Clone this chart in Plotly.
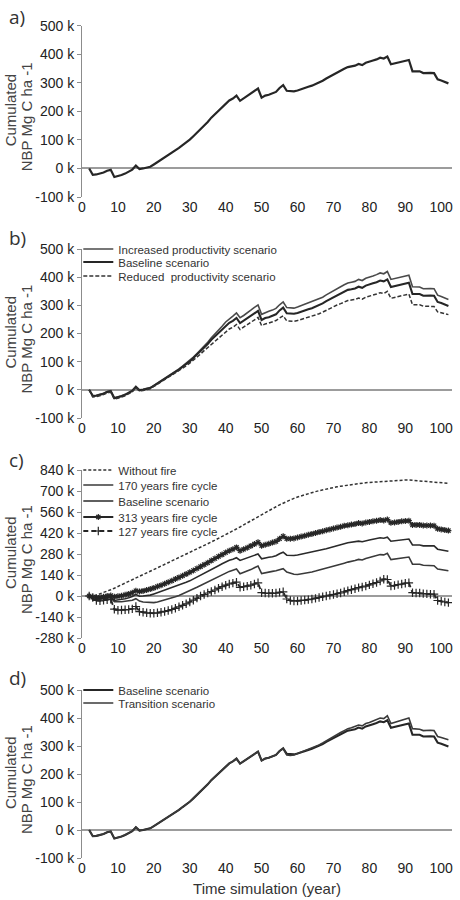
import plotly.graph_objects as go

# ---------------- data (values in thousands, k) ----------------
years = list(range(2, 103))

baseline = [0, -22, -21, -18, -14, -8, -5, -30, -27, -23,
            -18, -12, -4, 10, -2, 0, 2, 6, 14, 22,
            30, 38, 46, 54, 63, 72, 82, 91, 101, 113,
            125, 137, 150, 163, 178, 190, 202, 215, 228, 238,
            245, 255, 237, 245, 255, 262, 272, 280, 248, 255,
            258, 262, 268, 282, 292, 272, 270, 270, 273, 278,
            282, 286, 290, 295, 300, 307, 315, 322, 330, 336,
            342, 349, 355, 357, 360, 366, 362, 370, 373, 378,
            382, 388, 385, 392, 365, 368, 372, 375, 378, 380,
            340, 340, 340, 334, 335, 335, 334, 312, 308, 303,
            298]

increased = [0, -20, -19, -16, -12, -6, -3, -28, -25, -21,
             -16, -10, -2, 12, 0, 2, 4, 8, 16, 24,
             32, 40, 48, 56, 65, 74, 84, 94, 104, 116,
             129, 142, 156, 169, 185, 198, 211, 226, 241, 253,
             262, 273, 256, 264, 275, 283, 293, 301, 268, 275,
             279, 283, 289, 302, 312, 292, 290, 290, 294, 299,
             303, 308, 312, 317, 322, 329, 337, 345, 353, 359,
             366, 373, 379, 382, 385, 392, 388, 396, 399, 404,
             409, 415, 412, 420, 392, 395, 399, 402, 405, 407,
             366, 365, 365, 359, 360, 360, 359, 336, 331, 326,
             321]

reduced = [0, -25, -24, -21, -17, -11, -8, -33, -30, -26,
           -21, -15, -7, 8, -4, -2, 0, 4, 12, 20,
           28, 35, 43, 51, 59, 68, 77, 85, 95, 105,
           116, 127, 139, 150, 163, 174, 185, 196, 207, 216,
           222, 232, 214, 222, 231, 238, 248, 257, 228, 234,
           237, 241, 246, 255, 263, 245, 243, 243, 246, 250,
           254, 257, 261, 265, 270, 276, 283, 289, 296, 301,
           306, 312, 317, 319, 321, 326, 322, 329, 332, 336,
           340, 345, 342, 350, 325, 328, 331, 334, 337, 340,
           302, 302, 302, 297, 297, 297, 296, 277, 273, 270,
           267]

without_fire = [0, 0, 6, 14, 23, 32, 42, 52, 63, 74,
                85, 96, 107, 118, 130, 141, 153, 164, 176, 188,
                199, 211, 222, 234, 245, 257, 268, 280, 291, 303,
                314, 326, 337, 349, 360, 372, 384, 396, 408, 420,
                432, 446, 460, 474, 488, 502, 516, 530, 543, 556,
                569, 582, 595, 608, 620, 632, 642, 651, 660, 668,
                676, 683, 690, 696, 702, 708, 713, 718, 723, 728,
                732, 736, 740, 743, 746, 749, 752, 755, 757, 759,
                761, 763, 765, 767, 769, 770, 771, 772, 773, 773,
                771, 769, 767, 765, 763, 761, 759, 757, 755, 753,
                751]

fire_170 = [0, -20, -22, -20, -18, -14, -12, -38, -40, -38,
            -35, -32, -28, -18, -34, -40, -42, -44, -44, -40,
            -34, -28, -21, -13, -5, 4, 14, 24, 34, 46,
            58, 70, 82, 94, 106, 118, 130, 142, 154, 164,
            172, 180, 148, 156, 166, 176, 188, 200, 150, 156,
            160, 164, 168, 176, 182, 160, 150, 145, 143, 146,
            150, 155, 160, 166, 172, 178, 185, 192, 200, 206,
            212, 219, 226, 230, 236, 244, 240, 250, 256, 262,
            268, 276, 274, 285, 243, 246, 250, 254, 257, 260,
            212, 212, 212, 205, 205, 204, 202, 180, 176, 172,
            168]

fire_313 = [0, -8, -10, -8, -5, 0, 3, -5, -2, 2,
            8, 14, 22, 35, 30, 34, 40, 46, 54, 63,
            72, 82, 92, 102, 113, 124, 135, 146, 158, 170,
            183, 196, 209, 222, 236, 250, 263, 276, 290, 302,
            312, 324, 302, 312, 322, 334, 346, 358, 335, 342,
            348, 356, 364, 382, 398, 382, 382, 384, 390, 396,
            402, 408, 414, 420, 426, 432, 438, 444, 450, 456,
            462, 468, 472, 476, 480, 486, 484, 490, 494, 498,
            502, 506, 504, 510, 488, 490, 494, 498, 500, 502,
            474, 474, 474, 470, 470, 470, 468, 448, 444, 440,
            436]

fire_127 = [0, -10, -30, -32, -28, -25, -22, -88, -95, -93,
            -92, -90, -86, -70, -104, -108, -112, -115, -115, -112,
            -108, -103, -97, -90, -82, -72, -62, -52, -40, -28,
            -14, 0, 10, 20, 30, 40, 52, 62, 72, 80,
            86, 92, 58, 62, 66, 72, 80, 88, 22, 20,
            18, 18, 20, 24, 28, -20, -30, -33, -33, -30,
            -27, -24, -20, -16, -10, -5, 0, 5, 10, 15,
            20, 28, 36, 42, 48, 56, 60, 66, 74, 82,
            90, 100, 112, 110, 66, 70, 76, 80, 85, 88,
            22, 20, 20, 16, 14, 12, 12, -30, -35, -40,
            -44]

transition = [0, -22, -21, -18, -14, -8, -5, -30, -27, -23,
              -18, -12, -4, 10, -2, 0, 2, 6, 14, 22,
              30, 38, 46, 54, 63, 72, 82, 91, 101, 113,
              125, 137, 150, 163, 178, 190, 202, 215, 228, 238,
              245, 255, 237, 245, 255, 262, 272, 280, 248, 255,
              258, 262, 268, 282, 290, 268, 266, 268, 273, 278,
              283, 288, 293, 298, 304, 311, 319, 327, 335, 342,
              348, 355, 362, 365, 369, 375, 372, 380, 384, 389,
              394, 400, 398, 408, 380, 384, 388, 392, 396, 400,
              362, 362, 360, 355, 356, 356, 355, 334, 330, 326,
              322]

x_ticks = [0, 10, 20, 30, 40, 50, 60, 70, 80, 90, 100]
y_ticks_std = [-100, 0, 100, 200, 300, 400, 500]
y_ticks_fire = [-280, -140, 0, 140, 280, 420, 560, 700, 840]

panel_labels = ["a)", "b)", "c)", "d)"]
y_title_lines = ["Cumulated", "NBP Mg C ha -1"]
x_title = "Time simulation (year)"

# ---------------- figure ----------------
W, H = 460, 900
PLOT_L, PLOT_R = 82, 452
FONT = "Liberation Sans, Arial, sans-serif"
DARK = "#262626"

fig = go.Figure()


def line(x, y, ax, name=None, legend=None, color=DARK, width=2.0, dash="solid",
         symbol=None, msize=6, show=True):
    kw = dict(x=x, y=y, mode="lines", name=name,
              line=dict(color=color, width=width, dash=dash),
              xaxis=ax[0], yaxis=ax[1], showlegend=show and name is not None,
              hoverinfo="skip")
    if legend:
        kw["legend"] = legend
    if symbol:
        kw["mode"] = "lines+markers"
        kw["marker"] = dict(symbol=symbol, size=msize, color=color,
                            line=dict(color=color, width=1.2))
    fig.add_trace(go.Scatter(**kw))


# panel a
line(years, baseline, ("x", "y"), show=False, width=2.2)
# panel b
line(years, increased, ("x2", "y2"), "Increased productivity scenario", "legend2",
     color="#4a4a4a", width=1.6)
line(years, baseline, ("x2", "y2"), "Baseline scenario", "legend3", width=2.1)
line(years, reduced, ("x2", "y2"), "Reduced  productivity scenario", "legend4",
     color="#333", width=1.5, dash="4px,2px")
# panel c
line(years, without_fire, ("x3", "y3"), "Without fire", "legend5",
     color="#333", width=1.5, dash="3px,2px")
line(years, fire_170, ("x3", "y3"), "170 years fire cycle", "legend6",
     color="#3a3a3a", width=1.6)
line(years, baseline, ("x3", "y3"), "Baseline scenario", "legend7",
     color="#2a2a2a", width=1.6)
line(years, fire_313, ("x3", "y3"), "313 years fire cycle", "legend8",
     color=DARK, width=1.8, symbol="asterisk-open", msize=5)
line(years, fire_127, ("x3", "y3"), "127 years fire cycle", "legend9",
     color=DARK, width=1.8, dash="5px,3px", symbol="cross-thin-open", msize=6)
# panel d
line(years, baseline, ("x4", "y4"), "Baseline scenario", "legend10", width=2.1)
line(years, transition, ("x4", "y4"), "Transition scenario", "legend11",
     color="#3a3a3a", width=1.6)


def pix(y):
    """page pixel row -> paper fraction"""
    return 1 - y / H


def pixx(x):
    """page pixel column -> paper fraction"""
    return (x - PLOT_L) / (PLOT_R - PLOT_L)


# plot domains (pixel rows of top/bottom of each panel)
domains = [(25.7, 197), (249, 418), (470, 638), (690, 858)]
ranges = [(-100, 500), (-100, 500), (-280, 840), (-100, 500)]
tick_sets = [y_ticks_std, y_ticks_std, y_ticks_fire, y_ticks_std]

layout = dict(
    width=W, height=H,
    margin=dict(l=PLOT_L, r=W - PLOT_R, t=0, b=0),
    paper_bgcolor="white", plot_bgcolor="white",
    font=dict(family=FONT, color="#222"),
    showlegend=True,
)

for i in range(4):
    s = "" if i == 0 else str(i + 1)
    top, bot = domains[i]
    layout["xaxis" + s] = dict(
        domain=[0, 1], range=[0, 103], anchor="y" + s,
        tickvals=x_ticks, ticktext=[str(t) for t in x_ticks],
        showline=False, ticks="", showgrid=False, zeroline=False,
        tickfont=dict(family=FONT, size=14, color="#222"),
        automargin=False, fixedrange=True,
    )
    layout["yaxis" + s] = dict(
        domain=[pix(bot), pix(top)], range=list(ranges[i]), anchor="x" + s,
        tickvals=tick_sets[i], ticktext=[f"{t} k" for t in tick_sets[i]],
        showline=True, linecolor="#8c8c8c", linewidth=1,
        ticks="outside", ticklen=4, tickcolor="#8c8c8c",
        showgrid=False, zeroline=True, zerolinecolor="#9c9c9c", zerolinewidth=2,
        tickfont=dict(family=FONT, size=14, color="#222"),
        automargin=False, fixedrange=True,
    )

layout["xaxis4"]["title"] = dict(text=x_title, font=dict(family=FONT, size=15, color="#333"),
                                 standoff=8)

legend_rows = {
    "legend2": 249, "legend3": 262, "legend4": 276,
    "legend5": 470, "legend6": 485, "legend7": 501, "legend8": 517, "legend9": 531,
    "legend10": 690, "legend11": 703,
}
for key, yy in legend_rows.items():
    layout[key] = dict(x=-0.01, xanchor="left", y=pix(yy), yanchor="middle",
                       bgcolor="rgba(0,0,0,0)", borderwidth=0,
                       font=dict(family=FONT, size=11.5, color="#333"),
                       itemwidth=30)

annotations = []
label_rows = [17, 238, 460, 678]
for lab, yy in zip(panel_labels, label_rows):
    annotations.append(dict(text=lab, xref="paper", yref="paper",
                            x=pixx(7), y=pix(yy), xanchor="left", yanchor="middle",
                            showarrow=False,
                            font=dict(family="Open Sans, sans-serif", size=19, color="#333")))

# y-axis titles, one per panel, two rotated lines
title_cols = [10, 26]
title_shift = [-1, 6]
for top, bot in domains:
    mid = (top + bot) / 2
    for txt, cx, dy in zip(y_title_lines, title_cols, title_shift):
        annotations.append(dict(text=txt, xref="paper", yref="paper",
                                x=pixx(cx), y=pix(mid + dy), xanchor="center",
                                yanchor="middle", textangle=-90, showarrow=False,
                                font=dict(family=FONT, size=15, color="#444")))
layout["annotations"] = annotations

fig.update_layout(**layout)
# remove the browser's default 8 px body margin so the figure fills the window
fig.write_html("out.html", config={"displayModeBar": False, "staticPlot": False},
               post_script="document.body.style.margin='0';")
